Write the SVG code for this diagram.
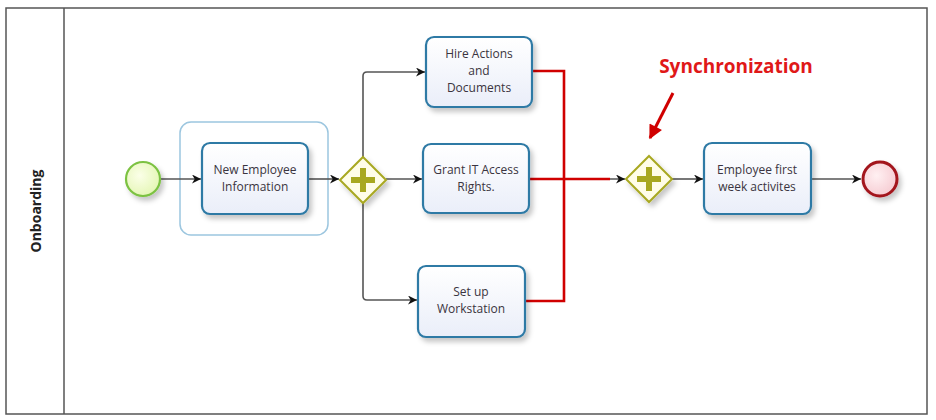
<svg xmlns="http://www.w3.org/2000/svg" width="936" height="420" viewBox="0 0 936 420">
<style>
.task{fill:url(#tg);stroke:#2f7aa5;stroke-width:2.2;filter:url(#sh)}
.tt{font-family:"Open Sans","Liberation Sans",sans-serif;font-size:12px;fill:#3a3440;text-anchor:middle}
.flow{fill:none;stroke:#555;stroke-width:1.6;marker-end:url(#ah)}
.red{fill:none;stroke:#d00000;stroke-width:2.6}
.gw{fill:#fffde8;stroke:#a8a820;stroke-width:2;filter:url(#sh)}
.plus{fill:#a8a820}
</style>
<defs>
<linearGradient id="tg" x1="0" y1="0" x2="0" y2="1"><stop offset="0" stop-color="#ffffff"/><stop offset="1" stop-color="#eaeef9"/></linearGradient>
<radialGradient id="sg" cx="0.4" cy="0.4" r="0.7"><stop offset="0" stop-color="#fbffe8"/><stop offset="1" stop-color="#e2f5b0"/></radialGradient>
<radialGradient id="eg" cx="0.4" cy="0.4" r="0.7"><stop offset="0" stop-color="#fff0f2"/><stop offset="1" stop-color="#f5c8cf"/></radialGradient>
<filter id="sh" x="-20%" y="-20%" width="150%" height="150%"><feDropShadow dx="3" dy="4" stdDeviation="2.5" flood-color="#000" flood-opacity="0.22"/></filter>
<marker id="ah" viewBox="0 0 10 10" refX="10" refY="5" markerWidth="10" markerHeight="9" markerUnits="userSpaceOnUse" orient="auto"><path d="M0,0 L10,5 L0,10 L3,5 Z" fill="#111"/></marker>
<marker id="ra" viewBox="0 0 10 10" refX="9" refY="5" markerWidth="16" markerHeight="14" markerUnits="userSpaceOnUse" orient="auto"><path d="M0,0 L10,5 L0,10 Z" fill="#d00000"/></marker>
</defs>
<g id="pool">
<rect x="6" y="8" width="921" height="406" fill="#fff" stroke="#555" stroke-width="1.5"/>
<line x1="64" y1="8" x2="64" y2="414" stroke="#555" stroke-width="1.5"/>
<text x="0" y="0" transform="translate(41,211) rotate(-90)" font-family="'Open Sans','Liberation Sans',sans-serif" font-size="14" font-weight="bold" fill="#222" text-anchor="middle">Onboarding</text>
</g>
<g id="group"><rect x="180" y="122" width="148" height="113" rx="11" fill="none" stroke="#9cc6df" stroke-width="1.5"/></g>
<g id="connectors">
<line class="flow" x1="161" y1="179" x2="201" y2="179"/>
<line class="flow" x1="308" y1="179" x2="339" y2="179"/>
<line class="flow" x1="386" y1="179" x2="422" y2="179"/>
<path class="flow" d="M363,157 V76 Q363,72 367,72 H425"/>
<path class="flow" d="M363,202 V296 Q363,300 367,300 H417"/>
<line class="flow" x1="563" y1="179" x2="625" y2="179"/>
<line class="flow" x1="672" y1="179" x2="703" y2="179"/>
<line class="flow" x1="811" y1="179" x2="861" y2="179"/>
<path class="red" d="M532,71 H564 V301 H525"/>
<path class="red" d="M529,179 H610"/>
<line x1="673" y1="93" x2="650" y2="138" stroke="#d00000" stroke-width="3" marker-end="url(#ra)"/>
</g>
<g id="start"><circle cx="143" cy="179" r="17" fill="url(#sg)" stroke="#7cc242" stroke-width="2.2" filter="url(#sh)"/></g>
<g id="task1"><rect class="task" x="202" y="143" width="106" height="71" rx="8"/><text class="tt" x="255" y="174">New Employee</text><text class="tt" x="255" y="191">Information</text></g>
<g id="split"><path class="gw" d="M363,157 L386,180 L363,203 L340,180 Z"/><path class="plus" d="M360,168 h6 v9 h9 v6 h-9 v9 h-6 v-9 h-9 v-6 h9 Z"/></g>
<g id="task2"><rect class="task" x="426" y="37" width="106" height="70" rx="8"/><text class="tt" x="479" y="58">Hire Actions</text><text class="tt" x="479" y="75">and</text><text class="tt" x="479" y="92">Documents</text></g>
<g id="task3"><rect class="task" x="423" y="144" width="106" height="69" rx="8"/><text class="tt" x="476" y="174">Grant IT Access</text><text class="tt" x="476" y="191">Rights.</text></g>
<g id="task4"><rect class="task" x="418" y="266" width="107" height="71" rx="8"/><text class="tt" x="471" y="296">Set up</text><text class="tt" x="471" y="313">Workstation</text></g>
<g id="join"><path class="gw" d="M649,156 L672,179 L649,202 L626,179 Z"/><path class="plus" d="M646,167 h6 v9 h9 v6 h-9 v9 h-6 v-9 h-9 v-6 h9 Z"/></g>
<g id="task5"><rect class="task" x="704" y="143" width="107" height="71" rx="8"/><text class="tt" x="757" y="174">Employee first</text><text class="tt" x="757" y="191">week activites</text></g>
<g id="end"><circle cx="880" cy="179" r="17" fill="url(#eg)" stroke="#a3141e" stroke-width="3" filter="url(#sh)"/></g>
<g id="note"><text x="736" y="73" font-family="'Open Sans','Liberation Sans',sans-serif" font-size="19" font-weight="bold" fill="#e01818" text-anchor="middle">Synchronization</text></g>
</svg>
